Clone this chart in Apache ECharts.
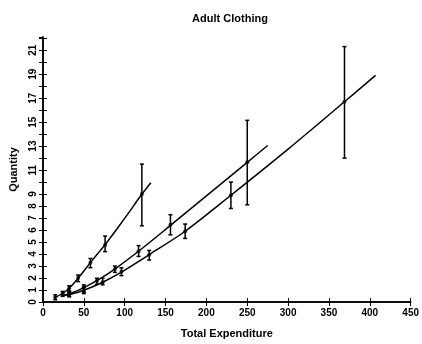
<!DOCTYPE html>
<html><head><meta charset="utf-8">
<script src="https://cdn.jsdelivr.net/npm/echarts@6/dist/echarts.min.js"></script>
<style>html,body{margin:0;padding:0;background:#fff}#c{width:422px;height:344px}</style>
</head><body><div id="c"></div>
<script>
// Observed points (x = total expenditure, y = quantity, error bar low/high)
var s1X = [15, 24, 32, 43, 58, 76, 121];
var s1Y = [0.4, 0.68, 1.15, 2.0, 3.27, 4.75, 9.0];
var s1Lo = [0.19, 0.47, 0.93, 1.7, 2.86, 4.2, 6.35];
var s1Hi = [0.6, 0.88, 1.35, 2.25, 3.63, 5.5, 11.5];

var s2X = [32, 50, 66, 88, 117, 156, 250];
var s2Y = [0.68, 1.2, 1.78, 2.75, 4.23, 6.45, 11.65];
var s2Lo = [0.45, 0.82, 1.48, 2.47, 3.8, 5.6, 8.1];
var s2Hi = [0.88, 1.43, 1.98, 3.0, 4.7, 7.28, 15.15];

var s3X = [32, 50, 73, 96, 130, 174, 230, 369];
var s3Y = [0.6, 0.96, 1.65, 2.53, 3.95, 5.9, 8.9, 16.7];
var s3Lo = [0.45, 0.7, 1.43, 2.2, 3.5, 5.3, 7.8, 12.0];
var s3Hi = [0.8, 1.25, 1.98, 2.85, 4.3, 6.5, 10.0, 21.3];

// Fitted curves
var f1X = [15, 25, 35, 45, 60, 75, 90, 105, 120, 132];
var f1Y = [0.4, 0.75, 1.35, 2.15, 3.45, 4.7, 6.05, 7.45, 8.9, 9.95];
var f2X = [22, 35, 50, 70, 90, 120, 150, 200, 250, 275];
var f2Y = [0.5, 0.75, 1.2, 1.95, 2.85, 4.4, 6.05, 8.85, 11.65, 13.05];
var f3X = [22, 32, 50, 73, 96, 130, 174, 230, 300, 369, 407];
var f3Y = [0.5, 0.6, 0.98, 1.65, 2.5, 3.95, 5.9, 8.9, 12.75, 16.7, 18.9];

var xTicks = [0, 50, 100, 150, 200, 250, 300, 350, 400, 450];
var yLabelled = [0, 1, 2, 3, 4, 5, 6, 7, 8, 9, 11, 13, 15, 17, 19, 21];

function zip(a, b) { return a.map(function (v, i) { return [v, b[i]]; }); }
function errData(x, lo, hi) { return x.map(function (v, i) { return [v, lo[i], hi[i]]; }); }

function errRender(params, api) {
  var x = api.value(0), lo = api.value(1), hi = api.value(2);
  var p1 = api.coord([x, lo]), p2 = api.coord([x, hi]);
  var st = { stroke: '#000', lineWidth: 1.5 };
  return {
    type: 'group',
    children: [
      { type: 'line', shape: { x1: p1[0], y1: p1[1], x2: p2[0], y2: p2[1] }, style: st },
      { type: 'line', shape: { x1: p1[0] - 2, y1: p1[1], x2: p1[0] + 2, y2: p1[1] }, style: st },
      { type: 'line', shape: { x1: p2[0] - 2, y1: p2[1], x2: p2[0] + 2, y2: p2[1] }, style: st }
    ]
  };
}

var font = 'Liberation Sans, Arial, sans-serif';
var chart = echarts.init(document.getElementById('c'), null, { renderer: 'canvas' });

function fitLine(xs, ys) {
  return { type: 'line', data: zip(xs, ys), showSymbol: false, smooth: 0.3,
    lineStyle: { color: '#000', width: 1.5 }, silent: true, z: 2, xAxisIndex: 0, yAxisIndex: 0 };
}
function pts(xs, ys) {
  return { type: 'scatter', data: zip(xs, ys), symbol: 'circle', symbolSize: 4,
    itemStyle: { color: '#000' }, z: 4, xAxisIndex: 0, yAxisIndex: 0 };
}
function errs(xs, lo, hi) {
  return { type: 'custom', data: errData(xs, lo, hi), renderItem: errRender, z: 3,
    encode: { x: 0, y: [1, 2] }, xAxisIndex: 0, yAxisIndex: 0 };
}

var axisLine = { show: true, lineStyle: { color: '#000', width: 1.5 } };
var yMax = 22.1;

chart.setOption({
  animation: false,
  backgroundColor: '#fff',
  title: {
    text: 'Adult Clothing', left: 225, top: 8, textAlign: 'center',
    textStyle: { fontFamily: font, fontSize: 11, fontWeight: 'bold', color: '#000' }
  },
  grid: { left: 37, right: 9, top: 37, bottom: 40, containLabel: false },
  xAxis: [{
    type: 'value', min: 0, max: 450, interval: 50, position: 'bottom',
    name: 'Total Expenditure', nameLocation: 'middle', nameGap: 26,
    nameTextStyle: { fontFamily: font, fontSize: 11, fontWeight: 'bold', color: '#000' },
    axisLine: axisLine, axisTick: { show: true, inside: true, length: 4, lineStyle: { color: '#000' } },
    axisLabel: { fontFamily: font, fontSize: 10, fontWeight: 'bold', color: '#000', margin: 6,
      formatter: function (v) { return xTicks.indexOf(v) >= 0 ? String(v) : ''; } },
    splitLine: { show: false }
  }, {
    type: 'value', min: 0, max: 450, interval: 50, position: 'top',
    axisLine: axisLine, axisTick: { show: true, inside: true, length: 4, lineStyle: { color: '#000' } },
    axisLabel: { show: false }, splitLine: { show: false }
  }],
  yAxis: [{
    type: 'value', min: 0, max: yMax, interval: 1, position: 'left',
    name: 'Quantity', nameLocation: 'middle', nameGap: 24,
    nameTextStyle: { fontFamily: font, fontSize: 11, fontWeight: 'bold', color: '#000' },
    axisLine: axisLine, axisTick: { show: true, inside: true, length: 4, lineStyle: { color: '#000' } },
    axisLabel: { rotate: 90, fontFamily: font, fontSize: 10, fontWeight: 'bold', color: '#000', margin: 5,
      showMaxLabel: false,
      formatter: function (v) { return yLabelled.indexOf(v) >= 0 ? String(v) : ''; } },
    splitLine: { show: false }
  }, {
    type: 'value', min: 0, max: yMax, interval: 1, position: 'right',
    axisLine: axisLine, axisTick: { show: true, inside: true, length: 4, lineStyle: { color: '#000' } },
    axisLabel: { show: false }, splitLine: { show: false }
  }],
  series: [
    fitLine(f1X, f1Y), fitLine(f2X, f2Y), fitLine(f3X, f3Y),
    errs(s1X, s1Lo, s1Hi), errs(s2X, s2Lo, s2Hi), errs(s3X, s3Lo, s3Hi),
    pts(s1X, s1Y), pts(s2X, s2Y), pts(s3X, s3Y)
  ]
});
</script></body></html>
